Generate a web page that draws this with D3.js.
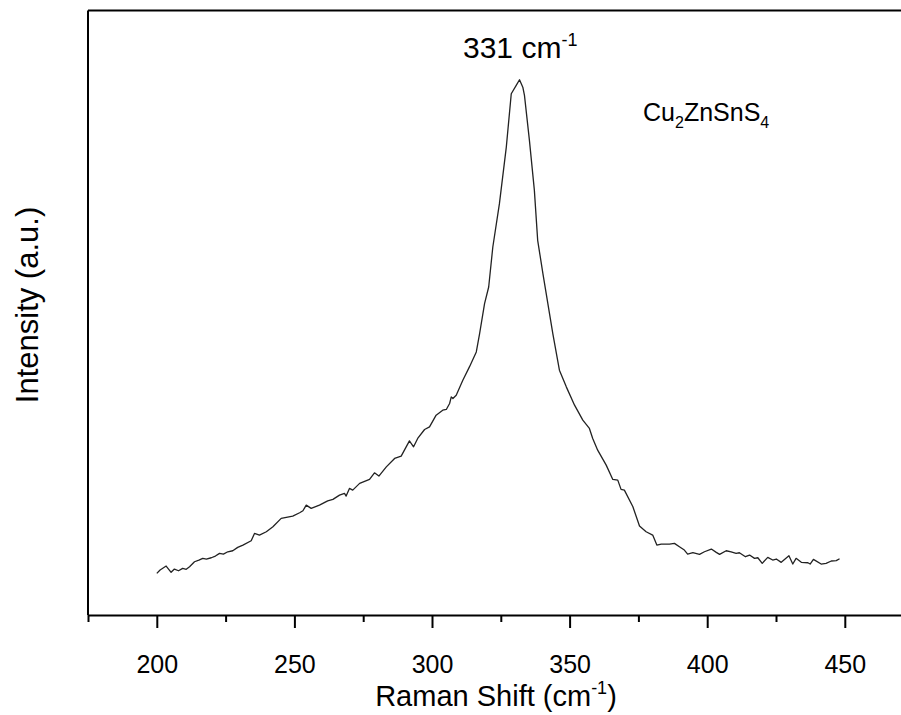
<!DOCTYPE html>
<html>
<head>
<meta charset="utf-8">
<script src="https://cdn.jsdelivr.net/npm/d3@7"></script>
<style>
  body { margin: 0; background: #fff; }
  text { font-family: "Liberation Sans", Arial, sans-serif; fill: #000; }
</style>
</head>
<body>
<div id="chart"></div>
<script>
// Raman shift (cm-1) and intensity (a.u.)
const ramanShift = [
    200.0, 201.2, 203.4, 205.2, 206.4, 207.9, 209.4, 210.7, 211.9, 213.7,
    215.3, 216.7, 218.0, 219.8, 221.3, 222.8, 224.2, 225.8, 227.6, 229.4,
    231.3, 234.3, 235.5, 237.3, 239.8, 242.2, 245.2, 249.4, 251.9, 253.1,
    254.3, 256.1, 259.1, 262.1, 264.0, 266.4, 268.2, 268.8, 270.0, 271.2,
    273.7, 277.3, 279.1, 280.7, 283.4, 286.4, 288.8, 291.8, 293.3, 294.8,
    297.3, 299.1, 301.5, 303.9, 305.2, 306.4, 307.0, 307.6, 308.8, 311.2,
    313.6, 316.1, 317.3, 319.1, 320.6, 322.1, 324.5, 327.0, 328.8, 330.6,
    331.8, 333.0, 333.6, 335.4, 337.2, 338.4, 340.3, 342.1, 343.9, 346.3,
    348.8, 351.8, 354.8, 357.2, 358.4, 360.2, 363.3, 365.7, 367.5, 368.7,
    369.9, 373.0, 375.4, 377.8, 380.2, 381.7, 383.3, 386.3, 388.1, 389.9,
    391.7, 392.9, 394.8, 397.2, 399.0, 401.5, 403.3, 404.5, 406.9, 408.7,
    410.5, 411.7, 413.9, 415.4, 417.2, 418.4, 420.0, 422.0, 423.8, 425.1,
    426.9, 429.7, 431.1, 432.3, 434.2, 436.6, 437.4, 438.6, 441.4, 443.2,
    445.1, 446.9, 448.1
];
const intensity = [
    6.89, 7.44, 8.10, 7.06, 7.60, 7.32, 7.72, 7.55, 7.98, 8.81,
    9.09, 9.37, 9.26, 9.47, 9.75, 10.20, 10.08, 10.46, 10.63, 11.19,
    11.57, 12.28, 13.50, 13.22, 13.77, 14.60, 15.98, 16.36, 16.91, 17.24,
    18.18, 17.64, 18.18, 18.89, 19.12, 19.83, 20.12, 19.67, 20.94, 20.66,
    21.77, 22.43, 23.52, 22.98, 24.51, 25.90, 26.28, 28.81, 27.82, 29.21,
    30.69, 31.12, 33.06, 33.88, 34.00, 34.99, 36.08, 35.82, 36.36, 38.84,
    41.04, 43.52, 46.56, 51.52, 54.26, 60.88, 68.05, 77.40, 86.23, 87.60,
    88.55, 87.32, 85.95, 78.51, 70.25, 61.98, 56.48, 51.52, 46.56, 40.50,
    37.74, 34.71, 32.23, 30.86, 29.21, 27.27, 24.79, 22.43, 22.31, 20.78,
    20.66, 17.90, 14.71, 13.77, 13.22, 11.57, 11.74, 11.74, 11.85, 11.29,
    10.74, 10.08, 10.30, 10.03, 10.46, 10.91, 10.36, 10.03, 10.63, 10.46,
    10.20, 10.30, 9.64, 9.92, 9.37, 9.47, 8.55, 9.54, 9.09, 9.26,
    8.71, 9.80, 8.43, 9.37, 8.71, 8.64, 8.43, 9.21, 8.43, 8.55,
    8.93, 9.00, 9.31
];
const majorTicks = [200, 250, 300, 350, 400, 450];
const minorTicks = [175, 225, 275, 325, 375, 425, 475];

const width = 901;
const height = 715;
const margin = { top: 10.5, left: 88, bottom: 100 };

const data = ramanShift.map((x, i) => ({ x: x, y: intensity[i] }));

const svg = d3.select('#chart')
    .append('svg')
    .attr('width', width)
    .attr('height', height);

const xScale = d3.scaleLinear()
    .domain([175, 475])
    .range([margin.left, margin.left + 300 * 2.752]);

const yScale = d3.scaleLinear()
    .domain([0, 100])
    .range([height - margin.bottom, margin.top]);

const yBottom = height - margin.bottom;

// frame: top and left edges (right edge is outside the picture)
svg.append('line')
    .attr('x1', margin.left).attr('x2', width + 20)
    .attr('y1', margin.top).attr('y2', margin.top)
    .attr('stroke', '#000').attr('stroke-width', 2);

svg.append('line')
    .attr('x1', margin.left).attr('x2', margin.left)
    .attr('y1', margin.top).attr('y2', yBottom)
    .attr('stroke', '#000').attr('stroke-width', 2);

// minor ticks
svg.append('g')
    .attr('transform', `translate(0, ${yBottom})`)
    .call(d3.axisBottom(xScale).tickValues(minorTicks).tickSize(7).tickSizeOuter(0).tickFormat(''))
    .call(g => g.select('.domain').remove())
    .call(g => g.selectAll('line').attr('stroke-width', 2));

// major ticks and labels
svg.append('g')
    .attr('class', 'x-axis')
    .attr('transform', `translate(0, ${yBottom})`)
    .call(d3.axisBottom(xScale).tickValues(majorTicks).tickSize(13).tickSizeOuter(0).tickPadding(27))
    .call(g => g.select('.domain').attr('stroke-width', 2))
    .call(g => g.selectAll('line').attr('stroke-width', 2))
    .call(g => g.selectAll('text')
        .attr('font-size', 25)
        .attr('font-family', '"Liberation Sans", Arial, sans-serif'));

// spectrum
const line = d3.line()
    .x(d => xScale(d.x))
    .y(d => yScale(d.y));

svg.append('path')
    .datum(data)
    .attr('d', line)
    .attr('fill', 'none')
    .attr('stroke', '#222')
    .attr('stroke-width', 1.3)
    .attr('stroke-linejoin', 'round');

// axis titles
const xTitle = svg.append('text')
    .attr('x', 496)
    .attr('y', 706)
    .attr('text-anchor', 'middle')
    .attr('font-size', 29);
xTitle.append('tspan').text('Raman Shift (cm');
xTitle.append('tspan').attr('font-size', 18).attr('dy', -12).text('-1');
xTitle.append('tspan').attr('dy', 12).text(')');

svg.append('text')
    .attr('transform', 'translate(38, 305) rotate(-90)')
    .attr('text-anchor', 'middle')
    .attr('font-size', 31)
    .text('Intensity (a.u.)');

// peak annotation
const peak = svg.append('text')
    .attr('x', 463)
    .attr('y', 58)
    .attr('font-size', 30);
peak.append('tspan').text('331 cm');
peak.append('tspan').attr('font-size', 18).attr('dy', -12).text('-1');

// sample label
const sample = svg.append('text')
    .attr('x', 643)
    .attr('y', 121)
    .attr('font-size', 25);
sample.append('tspan').text('Cu');
sample.append('tspan').attr('font-size', 16).attr('dy', 7).text('2');
sample.append('tspan').attr('dy', -7).text('ZnSnS');
sample.append('tspan').attr('font-size', 16).attr('dy', 7).text('4');
</script>
</body>
</html>
